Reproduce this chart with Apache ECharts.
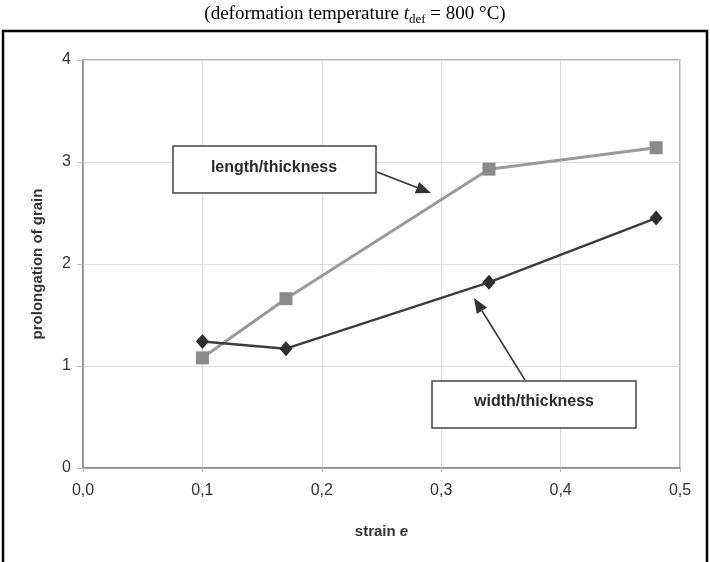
<!DOCTYPE html>
<html>
<head>
<meta charset="utf-8">
<script src="https://cdn.jsdelivr.net/npm/echarts@6/dist/echarts.min.js"></script>
<style>
html,body{margin:0;padding:0;background:#fff;}
#c{width:710px;height:562px;}
</style>
</head>
<body>
<div id="c"></div>
<script>
var xTicks = ['0,0','0,1','0,2','0,3','0,4','0,5'];
var yTicks = ['0','1','2','3','4'];
var strain = [0.10, 0.17, 0.34, 0.48];
var lengthThickness = [1.08, 1.66, 2.93, 3.14];
var widthThickness = [1.24, 1.17, 1.82, 2.45];

function arrow(x1, y1, x2, y2, color) {
  var dx = x2 - x1, dy = y2 - y1, L = Math.sqrt(dx*dx + dy*dy);
  var ux = dx / L, uy = dy / L, hl = 15, hw = 6;
  var bx = x2 - ux*hl, by = y2 - uy*hl;
  return [
    {type:'line', shape:{x1:x1,y1:y1,x2:bx,y2:by}, style:{stroke:color,lineWidth:1.5}},
    {type:'polygon', shape:{points:[[x2,y2],[bx - uy*hw, by + ux*hw],[bx + uy*hw, by - ux*hw]]}, style:{fill:color}}
  ];
}

var chart = echarts.init(document.getElementById('c'));
var graphics = [
  {type:'rect', shape:{x:3, y:31, width:704, height:560}, style:{fill:'none', stroke:'#000', lineWidth:2.5}, z:100},
  {type:'rect', shape:{x:173, y:146, width:203, height:47}, style:{fill:'#fff', stroke:'#444', lineWidth:1.5}, z:50},
  {type:'text', x:274, y:168, style:{text:'length/thickness', font:'bold 16px "Liberation Sans", Arial, sans-serif', fill:'#2a2a2a', align:'center', verticalAlign:'middle'}, z:51},
  {type:'rect', shape:{x:432, y:381, width:204, height:47}, style:{fill:'#fff', stroke:'#444', lineWidth:1.5}, z:50},
  {type:'text', x:534, y:402, style:{text:'width/thickness', font:'bold 16px "Liberation Sans", Arial, sans-serif', fill:'#2a2a2a', align:'center', verticalAlign:'middle'}, z:51}
];
arrow(377, 172, 431, 193, '#333').concat(arrow(525, 380, 474, 298, '#333')).forEach(function(g){ g.z = 52; graphics.push(g); });

chart.setOption({
  animation:false,
  backgroundColor:'#fff',
  title:{
    text:'{a|(deformation temperature }{i|t}{s|def}{a| = 800 °C)}',
    left:'center', top:-3,
    textStyle:{
      fontWeight:'normal',
      rich:{
        a:{fontFamily:'"Liberation Serif", "Times New Roman", serif', fontSize:19, fontWeight:'normal', color:'#000', lineHeight:24},
        i:{fontFamily:'"Liberation Serif", "Times New Roman", serif', fontSize:19, fontWeight:'normal', fontStyle:'italic', color:'#000', lineHeight:24},
        s:{fontFamily:'"Liberation Serif", "Times New Roman", serif', fontSize:13, fontWeight:'normal', color:'#000', lineHeight:12, padding:[12,0,0,0]}
      }
    }
  },
  grid:{left:83, right:30, top:60, bottom:94, show:true, borderColor:'#999', borderWidth:1.5},
  xAxis:{
    type:'value', min:0, max:0.5, interval:0.1,
    name:'{b|strain }{e|e}', nameLocation:'middle', nameGap:56,
    nameTextStyle:{rich:{
      b:{fontFamily:'"Liberation Sans", Arial, sans-serif', fontSize:15, fontWeight:'bold', color:'#333'},
      e:{fontFamily:'"Liberation Sans", Arial, sans-serif', fontSize:15, fontWeight:'bold', fontStyle:'italic', color:'#333'}
    }},
    axisLine:{lineStyle:{color:'#888', width:1.5}},
    axisTick:{show:true, length:4, lineStyle:{color:'#bbb'}},
    axisLabel:{margin:15, fontSize:16, color:'#333', fontFamily:'"Liberation Sans", Arial, sans-serif',
      formatter:function(v){ return xTicks[Math.round(v*10)]; }},
    splitLine:{show:true, lineStyle:{color:'#ddd', width:1}}
  },
  yAxis:{
    type:'value', min:0, max:4, interval:1,
    name:'prolongation of grain', nameLocation:'middle', nameGap:38,
    nameTextStyle:{fontFamily:'"Liberation Sans", Arial, sans-serif', fontSize:15, fontWeight:'bold', color:'#333'},
    axisLine:{show:true, lineStyle:{color:'#888', width:1.5}},
    axisTick:{show:true, length:6, lineStyle:{color:'#bbb'}},
    axisLabel:{margin:12, fontSize:16, color:'#333', fontFamily:'"Liberation Sans", Arial, sans-serif',
      formatter:function(v){ return yTicks[Math.round(v)]; }},
    splitLine:{show:true, lineStyle:{color:'#ddd', width:1}}
  },
  series:[
    {
      type:'line', name:'length/thickness',
      data:strain.map(function(x,i){ return [x, lengthThickness[i]]; }),
      symbol:'rect', symbolSize:13,
      lineStyle:{color:'#9a9a9a', width:3},
      itemStyle:{color:'#8a8a8a'}, z:3
    },
    {
      type:'line', name:'width/thickness',
      data:strain.map(function(x,i){ return [x, widthThickness[i]]; }),
      symbol:'diamond', symbolSize:[13,15],
      lineStyle:{color:'#3c3c3c', width:2.5},
      itemStyle:{color:'#2e2e2e'}, z:4
    }
  ],
  graphic:graphics
});
</script>
</body>
</html>
